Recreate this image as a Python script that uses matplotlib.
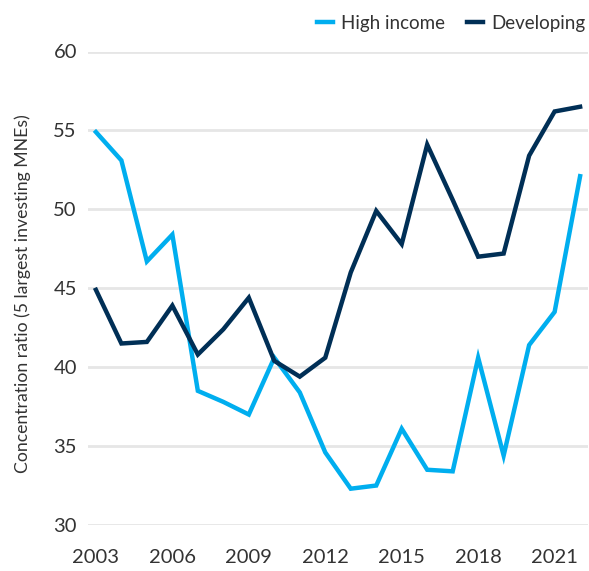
import matplotlib
matplotlib.use("Agg")
import matplotlib.pyplot as plt

years = list(range(2003, 2023))
high_income = [54.9, 53.1, 46.7, 48.4, 38.5, 37.8, 37.0, 40.6, 38.4, 34.6,
               32.3, 32.5, 36.1, 33.5, 33.4, 40.6, 34.4, 41.4, 43.5, 52.1]
developing = [44.9, 41.5, 41.6, 43.9, 40.8, 42.4, 44.4, 40.4, 39.4, 40.6,
              46.0, 49.9, 47.8, 54.1, 50.6, 47.0, 47.2, 53.4, 56.2, 56.5]
xticks = [2003, 2006, 2009, 2012, 2015, 2018, 2021]
yticks = [30, 35, 40, 45, 50, 55, 60]

plt.rcParams['font.family'] = ['Lato', 'DejaVu Sans']
txt = '#333333'

fig = plt.figure(figsize=(5.89, 5.71), dpi=100)
ax = fig.add_axes([88/589, 46/571, 500/589, 473.5/571])

ax.plot(years, high_income, color='#00AEEF', lw=3.2, label='High income',
        solid_joinstyle='miter', clip_on=False, zorder=3)
ax.plot(years, developing, color='#002F56', lw=3.2, label='Developing',
        solid_joinstyle='miter', clip_on=False, zorder=3)

ax.set_xlim(2002.69, 2022.31)
ax.set_ylim(30, 60)
ax.set_xticks(xticks)
ax.set_yticks(yticks)
for s in ax.spines.values():
    s.set_visible(False)
ax.grid(axis='y', color='#E6E6E6', lw=2)
ax.set_axisbelow(True)
ax.tick_params(axis='both', length=0, labelsize=14.5, colors=txt)
ax.tick_params(axis='x', pad=17)
ax.tick_params(axis='y', pad=8)
ax.set_ylabel('Concentration ratio (5 largest investing MNEs)', fontsize=12.7,
              color=txt)
ax.yaxis.set_label_coords(-0.114, 0.488)

leg = ax.legend(loc='center right', bbox_to_anchor=(1.009, 1.060), ncol=2, frameon=False,
                fontsize=13.5, handlelength=0.85, handletextpad=0.43, columnspacing=1.17,
                borderaxespad=0, labelcolor=txt)

fig.savefig('out.png', dpi=100)
